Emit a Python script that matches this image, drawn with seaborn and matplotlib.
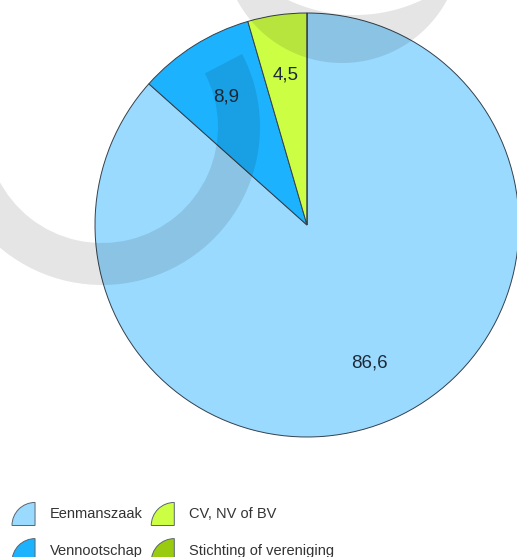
import numpy as np
import matplotlib
matplotlib.use("Agg")
import matplotlib.pyplot as plt
import seaborn as sns
from matplotlib.patches import Wedge, Patch, PathPatch
from matplotlib.path import Path
from matplotlib.legend_handler import HandlerPatch

# data
categories = ['Eenmanszaak', 'Vennootschap', 'CV, NV of BV', 'Stichting of vereniging']
shares = [86.6, 8.9, 4.5, 0.0]
colours = ['#9ADAFE', '#1CB2FE', '#CCFF44', '#99CC11']

sns.set_theme(style="white")
plt.rcParams['font.family'] = ['Liberation Sans', 'DejaVu Sans']


def fmt(p):
    # values add up to 100, so the percentage is the value itself
    return f"{p:.1f}".replace('.', ',') if p > 0.05 else ''


class QuarterHandler(HandlerPatch):
    def create_artists(self, legend, orig_handle, xdescent, ydescent,
                       width, height, fontsize, trans):
        r = min(width, height)
        w = Wedge((-xdescent + r, -ydescent), r, 90, 180,
                  facecolor=orig_handle.get_facecolor(), edgecolor='#5a6470',
                  linewidth=0.7, transform=trans)
        return [w]


fig = plt.figure(figsize=(5.17, 5.57), dpi=100)
ax = fig.add_axes([95 / 517, 120 / 557, 424 / 517, 424 / 557])

wedges, texts, autotexts = ax.pie(
    shares, colors=colours, startangle=90, counterclock=False,
    autopct=fmt, pctdistance=0.715,
    wedgeprops=dict(edgecolor='#34404c', linewidth=0.7),
    textprops=dict(fontsize=13.5, color='#1e2a38'))
ax.set_xlim(-1, 1)
ax.set_ylim(-1, 1)
for w in wedges:
    w.set_clip_on(False)

handles = [Patch(facecolor=c) for c in colours]
fig.legend(handles, categories, ncol=2, loc='upper left',
           bbox_to_anchor=(12 / 517, 1 - 502 / 557), frameon=False,
           handler_map={Patch: QuarterHandler()}, fontsize=10.5,
           handlelength=1.58, handleheight=2.1, handletextpad=1.0,
           columnspacing=0.6, labelspacing=0.87, borderaxespad=0, borderpad=0,
           labelcolor='#333333')

# watermark rings on top
wm = fig.add_axes([0, 0, 1, 1], zorder=5)
wm.set_xlim(0, 517)
wm.set_ylim(557, 0)
wm.axis('off')
wm.add_patch(Wedge((102, 127), 158, -27.5, 180, width=42,
                   facecolor='black', alpha=0.1, edgecolor='none'))

t = np.linspace(0, 2 * np.pi, 240)
outer = np.column_stack([342 + 119 * np.cos(t), -56 + 119 * np.sin(t)])
inner = np.column_stack([355 + 157 * np.cos(t), -142 + 157 * np.sin(t)])[::-1]
verts = np.vstack([outer, inner])
codes = ([Path.MOVETO] + [Path.LINETO] * (len(outer) - 1)
         + [Path.MOVETO] + [Path.LINETO] * (len(inner) - 1))
wm.add_patch(PathPatch(Path(verts, codes), facecolor='black', alpha=0.1,
                       edgecolor='none'))

fig.savefig('out.png', dpi=100)
